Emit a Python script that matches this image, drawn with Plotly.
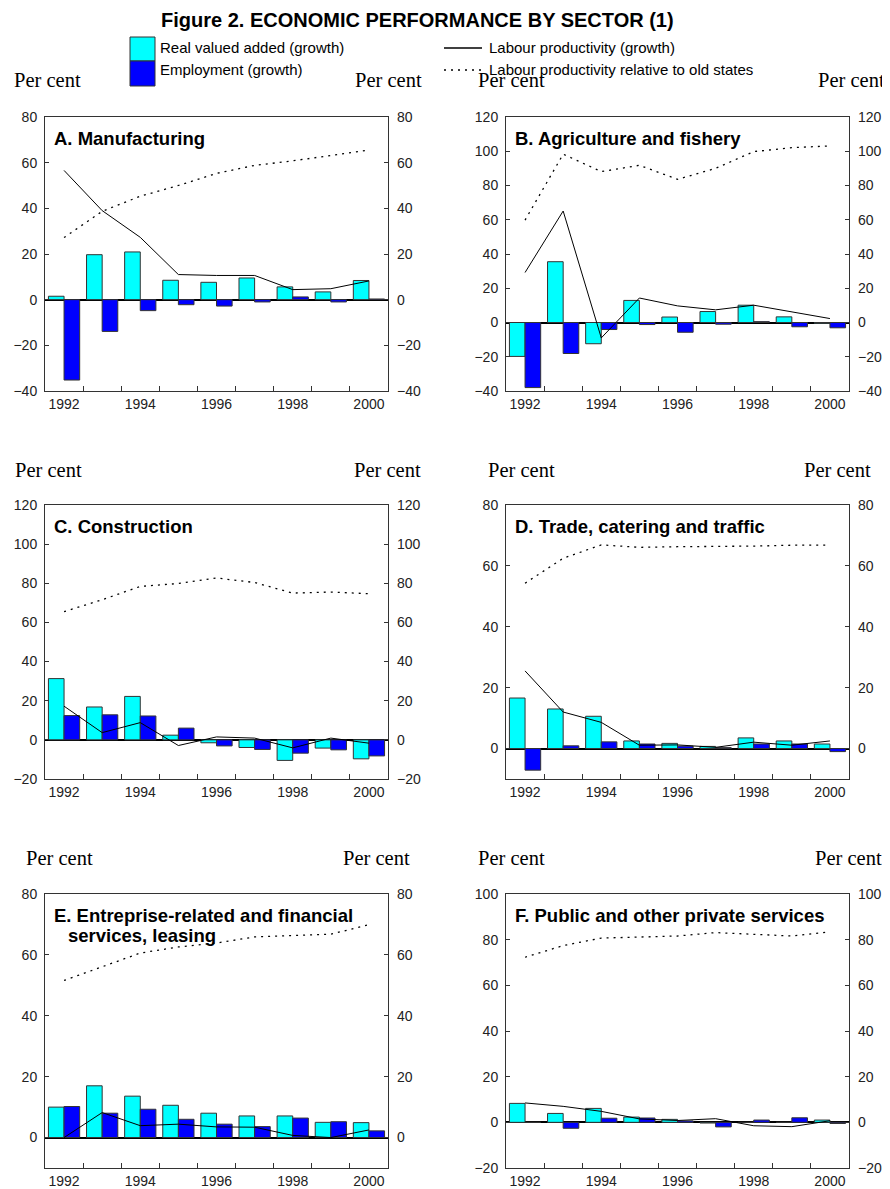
import plotly.graph_objects as go
from plotly.subplots import make_subplots

# Years shown on the x axis (labels only on even years)
years = ['1992', '1993', '1994', '1995', '1996', '1997', '1998', '1999', '2000']
year_labels = ['1992', '', '1994', '', '1996', '', '1998', '', '2000']

# A. Manufacturing
manuf_value_added = [1.5, 19.7, 20.9, 8.5, 7.6, 9.5, 5.6, 3.4, 8.4]
manuf_employment = [-35.2, -13.9, -4.8, -2.2, -2.8, -1.0, 1.2, -1.0, 0.3]
manuf_productivity = [56.6, 39.0, 27.3, 11.0, 10.6, 10.6, 4.4, 4.8, 8.2]
manuf_relative = [27.2, 38.7, 45.3, 50.0, 55.3, 58.8, 60.8, 63.2, 65.5]

# B. Agriculture and fishery
agri_value_added = [-19.8, 35.5, -12.4, 12.9, 3.2, 6.4, 10.1, 3.3, -0.5]
agri_employment = [-38.0, -18.1, -4.1, -1.2, -5.7, -1.0, 0.5, -2.5, -3.1]
agri_productivity = [29.2, 65.1, -9.0, 14.3, 9.7, 7.4, 10.1, 6.0, 2.3]
agri_relative = [59.8, 98.3, 88.1, 91.8, 83.6, 90.0, 99.8, 102.1, 103.1]

# C. Construction
constr_value_added = [31.3, 16.8, 22.2, 2.4, -1.5, -3.9, -10.5, -4.2, -9.7]
constr_employment = [12.4, 12.8, 12.2, 6.0, -3.1, -4.9, -6.8, -5.1, -8.2]
constr_productivity = [17.2, 3.7, 8.8, -2.9, 1.5, 0.9, -4.1, 0.9, -1.7]
constr_relative = [65.5, 71.6, 78.4, 79.9, 82.7, 80.4, 75.0, 75.5, 74.7]

# D. Trade, catering and traffic
trade_value_added = [16.6, 13.0, 10.6, 2.5, 1.7, 0.7, 3.5, 2.5, 1.5]
trade_employment = [-7.1, 0.9, 2.2, 1.5, 0.8, 0.3, 1.5, 1.5, -1.0]
trade_productivity = [25.5, 12.0, 8.6, 1.1, 1.2, 0.4, 2.1, 1.1, 2.5]
trade_relative = [54.3, 62.5, 66.9, 66.1, 66.3, 66.3, 66.5, 66.8, 66.8]

# E. Entreprise-related and financial services, leasing
finance_value_added = [10.0, 17.0, 13.6, 10.6, 8.0, 7.1, 7.1, 5.0, 4.9]
finance_employment = [10.2, 8.0, 9.3, 6.0, 4.4, 3.6, 6.4, 5.2, 2.2]
finance_productivity = [0.0, 8.2, 3.9, 4.4, 3.5, 3.4, 0.7, 0.0, 2.5]
finance_relative = [51.6, 56.2, 60.6, 62.6, 63.9, 65.9, 66.4, 66.8, 69.9]

# F. Public and other private services
public_value_added = [8.3, 3.9, 6.1, 2.3, 1.3, -0.3, 0.0, 0.0, 1.0]
public_employment = [0.0, -2.6, 1.8, 1.9, 0.6, -2.0, 1.0, 2.0, -0.5]
public_productivity = [8.5, 7.0, 4.8, 1.5, 0.8, 1.6, -1.5, -1.9, 0.7]
public_relative = [72.3, 77.4, 80.7, 81.2, 81.6, 83.1, 82.2, 81.6, 83.4]

panels = [
    ('A. Manufacturing', manuf_value_added, manuf_employment, manuf_productivity, manuf_relative),
    ('B. Agriculture and fishery', agri_value_added, agri_employment, agri_productivity, agri_relative),
    ('C. Construction', constr_value_added, constr_employment, constr_productivity, constr_relative),
    ('D. Trade, catering and traffic', trade_value_added, trade_employment, trade_productivity, trade_relative),
    ('E. Entreprise-related and financial', finance_value_added, finance_employment, finance_productivity, finance_relative),
    ('F. Public and other private services', public_value_added, public_employment, public_productivity, public_relative),
]
y_ranges = [[-40, 80], [-40, 120], [-20, 120], [-10, 80], [-10, 80], [-20, 100]]

W, H = 890, 1189
PAGE_MARGIN = 8  # browser body margin around the plot div
FONT = 'Arial, Liberation Sans, sans-serif'
SERIF = 'Times New Roman, Liberation Serif, serif'
CYAN = '#00FFFF'
BLUE = '#0000FF'


# convert page pixels to paper coordinates
def px_x(v):
    return (v - PAGE_MARGIN) / W


def px_y(v):
    return 1 - (v - PAGE_MARGIN) / H


# pixel positions of the plot frames
col_x = [(45, 388), (506, 849)]
row_y = [(117, 391), (505, 779), (894, 1168)]

fig = make_subplots(rows=3, cols=2, specs=[[{'secondary_y': True}] * 2] * 3)

for i, (title, va, emp, lp, rel) in enumerate(panels):
    r, c = i // 2 + 1, i % 2 + 1
    fig.add_trace(go.Bar(x=years, y=va, marker_color=CYAN,
                         marker_line=dict(color='#333333', width=1)), row=r, col=c)
    fig.add_trace(go.Bar(x=years, y=emp, marker_color=BLUE,
                         marker_line=dict(color='#333333', width=1)), row=r, col=c)
    fig.add_trace(go.Scatter(x=years, y=lp, mode='lines',
                             line=dict(color='black', width=1)), row=r, col=c)
    # relative level drawn against the right-hand axis (same scale)
    fig.add_trace(go.Scatter(x=years, y=rel, mode='lines',
                             line=dict(color='black', width=1.3, dash='2px,5px')),
                  row=r, col=c, secondary_y=True)

    x0, x1 = col_x[c - 1]
    y0, y1 = row_y[r - 1]
    xdom = [px_x(x0), px_x(x1)]
    ydom = [px_y(y1), px_y(y0)]
    lo, hi = y_ranges[i]
    tv = list(range(lo if lo % 20 == 0 else 0, hi + 1, 20))

    fig.update_xaxes(row=r, col=c, domain=xdom, type='category', tickson='boundaries',
                     tickvals=years, ticktext=year_labels, tickangle=0, ticks='inside',
                     ticklen=5, tickcolor='#333333', showline=True, mirror=True,
                     linecolor='#333333', linewidth=1, showgrid=False, automargin=False,
                     tickfont=dict(size=14, color='#222222'))
    fig.update_yaxes(row=r, col=c, secondary_y=False, domain=ydom, range=[lo, hi],
                     tickvals=tv, ticks='inside', ticklen=4, tickcolor='#333333',
                     showline=True, mirror=True, linecolor='#333333', linewidth=1,
                     showgrid=False, zeroline=True, zerolinecolor='black', zerolinewidth=2,
                     automargin=False, ticklabelstandoff=4,
                     tickfont=dict(size=14, color='#222222'))
    fig.update_yaxes(row=r, col=c, secondary_y=True, domain=ydom, range=[lo, hi],
                     tickvals=tv, ticks='inside', ticklen=4, tickcolor='#333333',
                     showline=False, showgrid=False, zeroline=False, automargin=False,
                     ticklabelstandoff=8, tickfont=dict(size=14, color='#222222'))

    # panel title inside the frame
    fig.add_annotation(x=px_x(x0 + 7), y=px_y(y0 + 21), xref='paper', yref='paper',
                       text='<b>' + title + '</b>', showarrow=False, xanchor='left',
                       yanchor='middle', font=dict(family=FONT, size=18.5, color='black'))
    if i == 4:
        fig.add_annotation(x=px_x(x0 + 21), y=px_y(y0 + 41), xref='paper', yref='paper',
                           text='<b>services, leasing</b>', showarrow=False, xanchor='left',
                           yanchor='middle', font=dict(family=FONT, size=18.5, color='black'))

# "Per cent" labels above each axis
per_cent_pos = [
    (12, 80), (353, 80), (476, 80), (816, 80),
    (13, 470), (352, 470), (486, 470), (802, 470),
    (24, 858), (341, 858), (476, 858), (813, 858),
]
for px, py in per_cent_pos:
    fig.add_annotation(x=px_x(px), y=px_y(py), xref='paper', yref='paper', text='Per cent',
                       showarrow=False, xanchor='left', yanchor='middle',
                       font=dict(family=SERIF, size=20.5, color='black'))

# figure title
fig.add_annotation(x=px_x(417), y=px_y(20), xref='paper', yref='paper',
                   text='<b>Figure 2. ECONOMIC PERFORMANCE BY SECTOR (1)</b>',
                   showarrow=False, xanchor='center', yanchor='middle',
                   font=dict(family=FONT, size=20, color='black'))

# hand-made legend
fig.add_shape(type='rect', xref='paper', yref='paper', x0=px_x(130), x1=px_x(155),
              y0=px_y(37), y1=px_y(61), fillcolor=CYAN, line=dict(color='#333333', width=1))
fig.add_shape(type='rect', xref='paper', yref='paper', x0=px_x(130), x1=px_x(155),
              y0=px_y(61), y1=px_y(86), fillcolor=BLUE, line=dict(color='#333333', width=1))
fig.add_shape(type='line', xref='paper', yref='paper', x0=px_x(444), x1=px_x(482),
              y0=px_y(48), y1=px_y(48), line=dict(color='black', width=1.5))
fig.add_shape(type='line', xref='paper', yref='paper', x0=px_x(444), x1=px_x(482),
              y0=px_y(70), y1=px_y(70), line=dict(color='black', width=1.5, dash='2px,5px'))
legend_texts = [
    (158, 48, 'Real valued added (growth)'),
    (158, 70, 'Employment (growth)'),
    (487, 48, 'Labour productivity (growth)'),
    (487, 70, 'Labour productivity relative to old states'),
]
for lx, ly, txt in legend_texts:
    fig.add_annotation(x=px_x(lx), y=px_y(ly), xref='paper', yref='paper', text=txt,
                       showarrow=False, xanchor='left', yanchor='middle',
                       font=dict(family=FONT, size=15, color='black'))

fig.update_layout(
    width=W, height=H,
    margin=dict(l=0, r=0, t=0, b=0, pad=0, autoexpand=False),
    barmode='group', bargap=0.18, bargroupgap=0,
    showlegend=False,
    plot_bgcolor='white', paper_bgcolor='white',
    font=dict(family=FONT, size=14, color='black'),
)

fig.write_html('out.html')
